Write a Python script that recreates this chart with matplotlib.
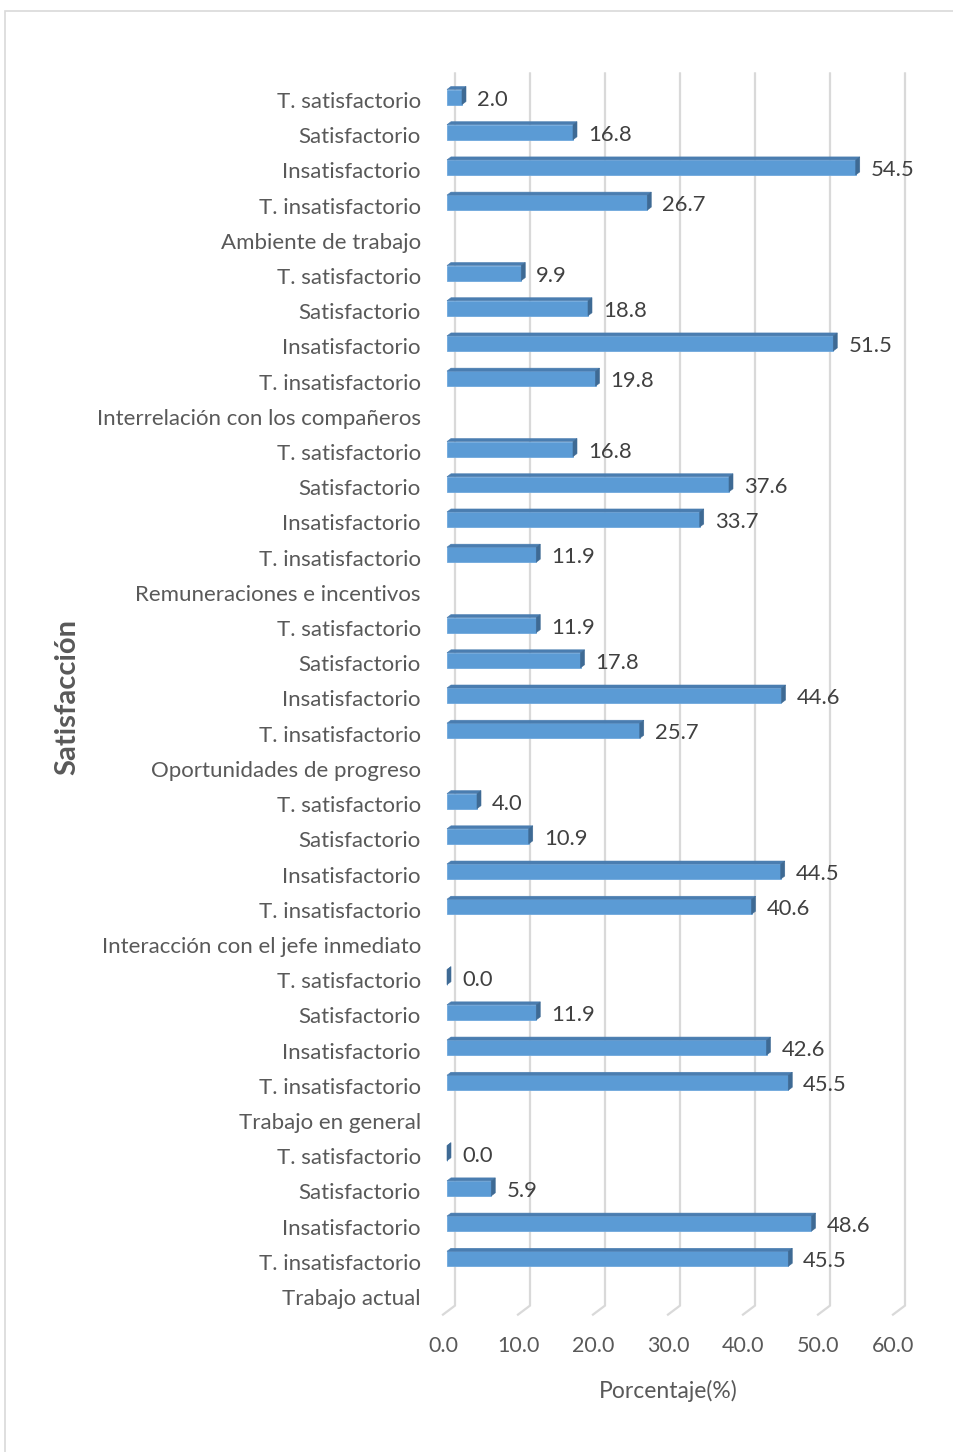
import matplotlib
matplotlib.use("Agg")
import matplotlib.pyplot as plt
from matplotlib.patches import Polygon, Rectangle
from matplotlib.lines import Line2D
from matplotlib.transforms import IdentityTransform

# ---------------- data (top to bottom) ----------------
groups = ["Ambiente de trabajo", "Interrelación con los compañeros",
          "Remuneraciones e incentivos", "Oportunidades de progreso",
          "Interacción con el jefe inmediato", "Trabajo en general",
          "Trabajo actual"]
levels = ["T. satisfactorio", "Satisfactorio", "Insatisfactorio", "T. insatisfactorio"]
ambiente = [2.0, 16.8, 54.5, 26.7]
interrelacion = [9.9, 18.8, 51.5, 19.8]
remuneraciones = [16.8, 37.6, 33.7, 11.9]
oportunidades = [11.9, 17.8, 44.6, 25.7]
jefe = [4.0, 10.9, 44.5, 40.6]
general = [0.0, 11.9, 42.6, 45.5]
actual = [0.0, 5.9, 48.6, 45.5]
group_values = [ambiente, interrelacion, remuneraciones, oportunidades, jefe, general, actual]
xticks = [0, 10, 20, 30, 40, 50, 60]
xlabel = "Porcentaje(%)"
ylabel = "Satisfacción"

labels, values = [], []
for g, vals in zip(groups, group_values):
    for lv, v in zip(levels, vals):
        labels.append(lv)
        values.append(v)
    labels.append(g)
    values.append(None)
n = len(labels)

# ---------------- figure ----------------
W, H, DPI = 954, 1452, 100
FONT = "Lato"
GRAY = "#595959"
TXT = "#404040"
fig = plt.figure(figsize=(W / DPI, H / DPI), dpi=DPI)
fig.patch.set_facecolor("white")

def fx(px): return px / W
def fy(py): return 1 - py / H

ax_l, ax_r, ax_t, ax_b = 443, 893, 82.4, 1314.6
ax = fig.add_axes([fx(ax_l), fy(ax_b), (ax_r - ax_l) / W, (ax_b - ax_t) / H])
ax.set_xlim(0, 60)
ax.set_ylim(n - 0.5, -0.5)
ax.patch.set_visible(False)
for s in ax.spines.values():
    s.set_visible(False)
ax.set_xticks(xticks)
ax.set_xticklabels([f"{t:.1f}" for t in xticks], fontsize=15.5, color=GRAY, family=FONT)
ax.set_yticks(range(n))
ax.set_yticklabels(labels, fontsize=16, color=GRAY, family=FONT)
ax.tick_params(axis="both", length=0)
ax.tick_params(axis="y", pad=16)
ax.tick_params(axis="x", pad=15.5)
ax.set_xlabel(xlabel, fontsize=16.5, color=GRAY, family=FONT, labelpad=17)
fig.text(fx(67), fy(697), ylabel, rotation=90, ha="center", va="center",
         fontsize=21, fontweight="bold", color=GRAY, family=FONT)

ID = IdentityTransform()

def P(v, r, dx=0.0, dy=0.0):
    p = ax.transData.transform((v, r))
    return (p[0] + dx, p[1] + dy)

# gridlines (back wall + floor diagonal)
for t in xticks:
    top = P(t, -0.5, 12, 9)
    bb = P(t, n - 0.5, 12, 9)
    ff = P(t, n - 0.5, 0, 0)
    ax.add_line(Line2D([top[0], bb[0], ff[0]], [top[1], bb[1], ff[1]],
                       transform=ID, color="#D9D9D9", lw=1.6, clip_on=False, zorder=1))

# bars
hpx = 15.0
row_px = (ax_b - ax_t) / n
h = hpx / row_px
FRONT, TOP, SIDE = "#5B9BD5", "#4A7DB0", "#3E6A94"
for r, v in enumerate(values):
    if v is None:
        continue
    fbl = P(0, r + h / 2, 4, 3)
    ftr = P(v, r - h / 2, 4, 3)
    ax.add_patch(Polygon([fbl, (ftr[0], fbl[1]), ftr, (fbl[0], ftr[1])], closed=True,
                         transform=ID, facecolor=FRONT, edgecolor="#6FA8DC", lw=0.6,
                         clip_on=False, zorder=3))
    ax.add_patch(Polygon([P(0, r - h / 2, 4, 3), P(v, r - h / 2, 4, 3),
                          P(v, r - h / 2, 8, 6), P(0, r - h / 2, 8, 6)], closed=True,
                         transform=ID, facecolor=TOP, edgecolor=TOP, lw=0.4,
                         clip_on=False, zorder=3))
    ax.add_patch(Polygon([P(v, r + h / 2, 4, 3), P(v, r - h / 2, 4, 3),
                          P(v, r - h / 2, 8, 6), P(v, r + h / 2, 8, 6)], closed=True,
                         transform=ID, facecolor=SIDE, edgecolor=SIDE, lw=0.4,
                         clip_on=False, zorder=3))
    tp = P(v, r, 19, 0.5)
    ax.text(tp[0], tp[1], f"{v:.1f}", transform=ID, ha="left", va="center",
            fontsize=15.8, color=TXT, family=FONT, zorder=4)

# outer chart frame
fig.add_artist(Rectangle((fx(5), fy(1460)), fx(960) - fx(5), (1460 - 11) / H,
                         transform=fig.transFigure, facecolor="none",
                         edgecolor="#D9D9D9", lw=1.2))

fig.savefig("out.png", dpi=DPI, facecolor="white")
